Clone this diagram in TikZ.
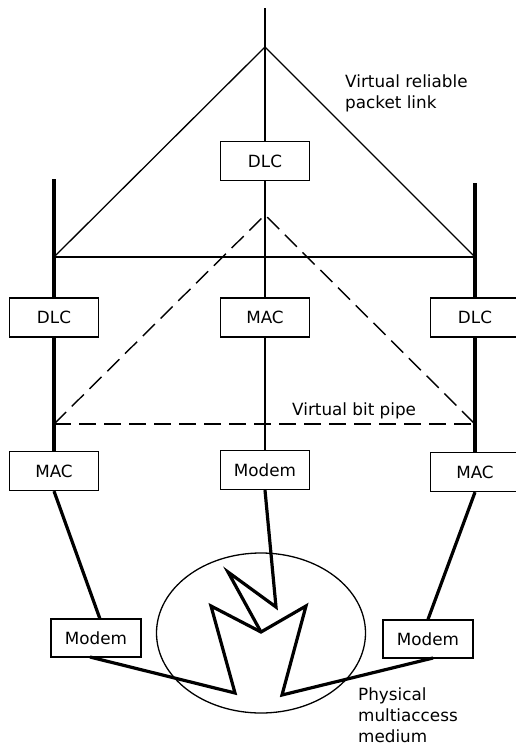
\documentclass[tikz,border=0pt]{standalone}
\usepackage{fontspec}
\setmainfont{DejaVu Sans}
\newcommand{\diagfont}{\fontsize{16.8}{21}\selectfont}
\begin{document}
\begin{tikzpicture}[x=1pt,y=-1pt,
  thinline/.style={line width=1.3pt},
  thickline/.style={line width=3.2pt},
  box/.style={draw, line width=1.3pt, fill=white, minimum width=89pt, minimum height=39pt, inner sep=0pt, font=\diagfont},
  dashline/.style={line width=1.4pt, dash pattern=on 17pt off 8pt},
  lbl/.style={font=\diagfont, inner sep=0pt, align=left, anchor=base west}
]
\useasboundingbox (0,0) rectangle (516,745);

% boxes
\node[box] (topdlc) at (265,161) {DLC};
\node[box] (dlcL) at (54,317.5) {DLC};
\node[box] (macC) at (265,317.5) {MAC};
\node[box] (dlcR) at (475,317.5) {DLC};
\node[box] (macL) at (54,471) {MAC};
\node[box] (modemC) at (265,470) {Modem};
\node[box] (macR) at (475,472) {MAC};
\node[box, minimum width=90pt, minimum height=38pt] (modemBL) at (96,638) {Modem};
\node[box, minimum width=90pt, minimum height=38pt] (modemBR) at (428,639) {Modem};

% coordinates
\coordinate (ctop) at (265,8);
\coordinate (apex) at (265,47);
\coordinate (dapex) at (265,215);
\coordinate (Ltop) at (54,179);
\coordinate (Rtop) at (475,183);
\coordinate (L1) at (54,257);
\coordinate (R1) at (475,257);
\coordinate (L2) at (54,424);
\coordinate (R2) at (475,424);
\coordinate (z1) at (235,693);
\coordinate (z2) at (211,606);
\coordinate (z3) at (261,632);
\coordinate (z4) at (306,606);
\coordinate (z5) at (282,695);
\coordinate (z6) at (276,607);
\coordinate (z7) at (228,572);
\coordinate (mBLout) at (90,657);
\coordinate (mBRout) at (433,658);
\coordinate (mBLin) at (100,619);

% centre column
\draw[thinline] (ctop) -- (topdlc.north);
\draw[thinline] (topdlc.south) -- (macC.north);
\draw[thinline] (macC.south) -- (modemC.north);

% side columns
\draw[thickline] (Ltop) -- (dlcL.north);
\draw[thickline] (dlcL.south) -- (macL.north);
\draw[thickline] (Rtop) -- (dlcR.north);
\draw[thickline] (dlcR.south) -- (macR.north);

% virtual reliable packet link
\draw[thinline] (L1) -- (apex) -- (R1);
\draw[thinline] (L1) -- (R1);

% virtual bit pipe
\draw[dashline] (L2) -- (dapex) -- (R2);
\draw[dashline] (L2) -- (R2);

% physical medium
\draw[thinline] (261,633) ellipse [x radius=104.5, y radius=80];
\draw[thickline] (macL.south) -- (mBLin);
\draw[thickline] (macR.south) -- (modemBR.north);
\draw[thickline, miter limit=20] (mBLout) -- (z1) -- (z2) -- (z3) -- (z4) -- (z5) -- (mBRout);
\draw[thickline, miter limit=20] (modemC.south) -- (z6) -- (z7) -- (z3);

% labels
\node[lbl] (t1) at (345,108) {Virtual reliable\\packet link};
\node[lbl] (t2) at (292,415) {Virtual bit pipe};
\node[lbl] (t3) at (358,742) {Physical\\multiaccess\\medium};
\end{tikzpicture}
\end{document}
